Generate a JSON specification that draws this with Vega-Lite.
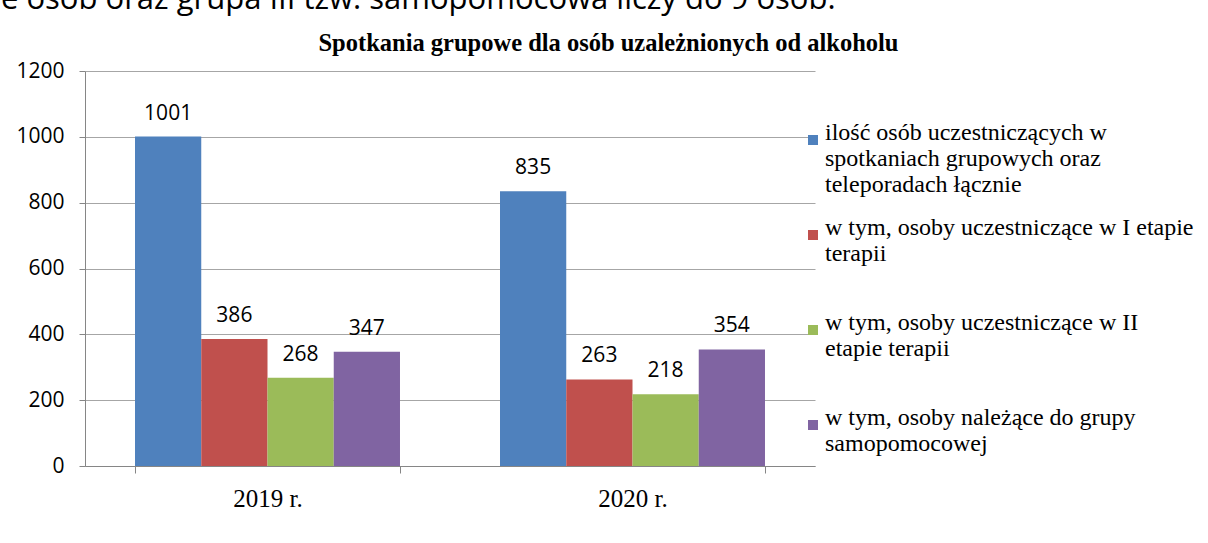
{
  "$schema": "https://vega.github.io/schema/vega-lite/v6.json",
  "padding": {"top": -17, "left": 0, "right": 0, "bottom": 0},
  "background": "#ffffff",
  "title": {
    "text": "e osób oraz grupa III tzw. samopomocowa liczy do 9 osób.",
    "anchor": "start",
    "frame": "bounds",
    "font": "Open Sans",
    "fontSize": 31,
    "fontWeight": "normal",
    "color": "#000000",
    "dx": -15,
    "offset": 15
  },
  "vconcat": [
    {
      "title": {
        "text": "Spotkania grupowe dla osób uzależnionych od alkoholu",
        "anchor": "middle",
        "frame": "bounds",
        "font": "Liberation Serif",
        "fontSize": 24.5,
        "fontWeight": "bold",
        "color": "#000000",
        "offset": 4,
        "dx": 193
      },
      "width": 730,
      "height": 395,
      "data": {
        "values": [
          {"year": "2019 r.", "series": "ilość osób uczestniczących w spotkaniach grupowych oraz teleporadach łącznie", "value": 1001},
          {"year": "2019 r.", "series": "w tym, osoby uczestniczące w I etapie terapii", "value": 386},
          {"year": "2019 r.", "series": "w tym, osoby uczestniczące w II etapie terapii", "value": 268},
          {"year": "2019 r.", "series": "w tym, osoby należące do grupy samopomocowej", "value": 347},
          {"year": "2020 r.", "series": "ilość osób uczestniczących w spotkaniach grupowych oraz teleporadach łącznie", "value": 835},
          {"year": "2020 r.", "series": "w tym, osoby uczestniczące w I etapie terapii", "value": 263},
          {"year": "2020 r.", "series": "w tym, osoby uczestniczące w II etapie terapii", "value": 218},
          {"year": "2020 r.", "series": "w tym, osoby należące do grupy samopomocowej", "value": 354}
        ]
      },
      "encoding": {
        "x": {
          "field": "year",
          "type": "nominal",
          "scale": {"paddingInner": 0.274, "paddingOuter": 0.137},
          "axis": {
            "title": null,
            "labelAngle": 0,
            "labelFont": "Liberation Serif",
            "labelFontSize": 25,
            "labelColor": "#000000",
            "tickBand": "extent",
            "tickSize": 7,
            "labelPadding": 13,
            "domainColor": "#868686",
            "tickColor": "#868686",
            "grid": false
          }
        },
        "xOffset": {
          "field": "series",
          "type": "nominal",
          "sort": [
            "ilość osób uczestniczących w spotkaniach grupowych oraz teleporadach łącznie",
            "w tym, osoby uczestniczące w I etapie terapii",
            "w tym, osoby uczestniczące w II etapie terapii",
            "w tym, osoby należące do grupy samopomocowej"
          ],
          "scale": {"paddingInner": 0, "paddingOuter": 0}
        },
        "y": {
          "field": "value",
          "type": "quantitative",
          "scale": {"domain": [0, 1200], "nice": false},
          "axis": {
            "title": null,
            "values": [0, 200, 400, 600, 800, 1000, 1200],
            "format": "d",
            "labelFont": "Open Sans",
            "labelFontSize": 21,
            "labelColor": "#000000",
            "tickSize": 6,
            "labelPadding": 15,
            "grid": true,
            "gridColor": "#a6a6a6",
            "domainColor": "#868686",
            "tickColor": "#868686"
          }
        }
      },
      "layer": [
        {
          "mark": {"type": "bar"},
          "encoding": {
            "color": {
              "field": "series",
              "type": "nominal",
              "scale": {
                "domain": [
                  "ilość osób uczestniczących w spotkaniach grupowych oraz teleporadach łącznie",
                  "w tym, osoby uczestniczące w I etapie terapii",
                  "w tym, osoby uczestniczące w II etapie terapii",
                  "w tym, osoby należące do grupy samopomocowej"
                ],
                "range": ["#4F81BD", "#C0504D", "#9BBB59", "#8064A2"]
              },
              "legend": {
                "title": null,
                "orient": "none",
                "legendX": 716,
                "legendY": 57,
                "padding": 0,
                "symbolType": "square",
                "symbolSize": 100,
                "symbolStrokeWidth": 0,
                "labelFont": "Liberation Serif",
                "labelFontSize": 24,
                "labelColor": "#000000",
                "labelLimit": 500,
                "labelOffset": 0,
                "labelBaseline": "alphabetic",
                "gridAlign": "all",
                "rowPadding": 19,
                "labelExpr": "datum.label == 'ilość osób uczestniczących w spotkaniach grupowych oraz teleporadach łącznie' ? ['ilość osób uczestniczących w', 'spotkaniach grupowych oraz', 'teleporadach łącznie'] : datum.label == 'w tym, osoby uczestniczące w I etapie terapii' ? ['w tym, osoby uczestniczące w I etapie', 'terapii'] : datum.label == 'w tym, osoby uczestniczące w II etapie terapii' ? ['w tym, osoby uczestniczące w II', 'etapie terapii'] : ['w tym, osoby należące do grupy', 'samopomocowej']",
                "encoding": {
                  "labels": {"update": {"dy": {"value": 6}, "lineHeight": {"value": 27}}}
                }
              }
            }
          }
        },
        {
          "mark": {
            "type": "text",
            "font": "Open Sans",
            "fontSize": 21,
            "baseline": "alphabetic",
            "dy": -17,
            "color": "#000000"
          },
          "encoding": {
            "text": {"field": "value", "type": "quantitative"}
          }
        }
      ]
    }
  ],
  "config": {
    "view": {"stroke": null}
  }
}
